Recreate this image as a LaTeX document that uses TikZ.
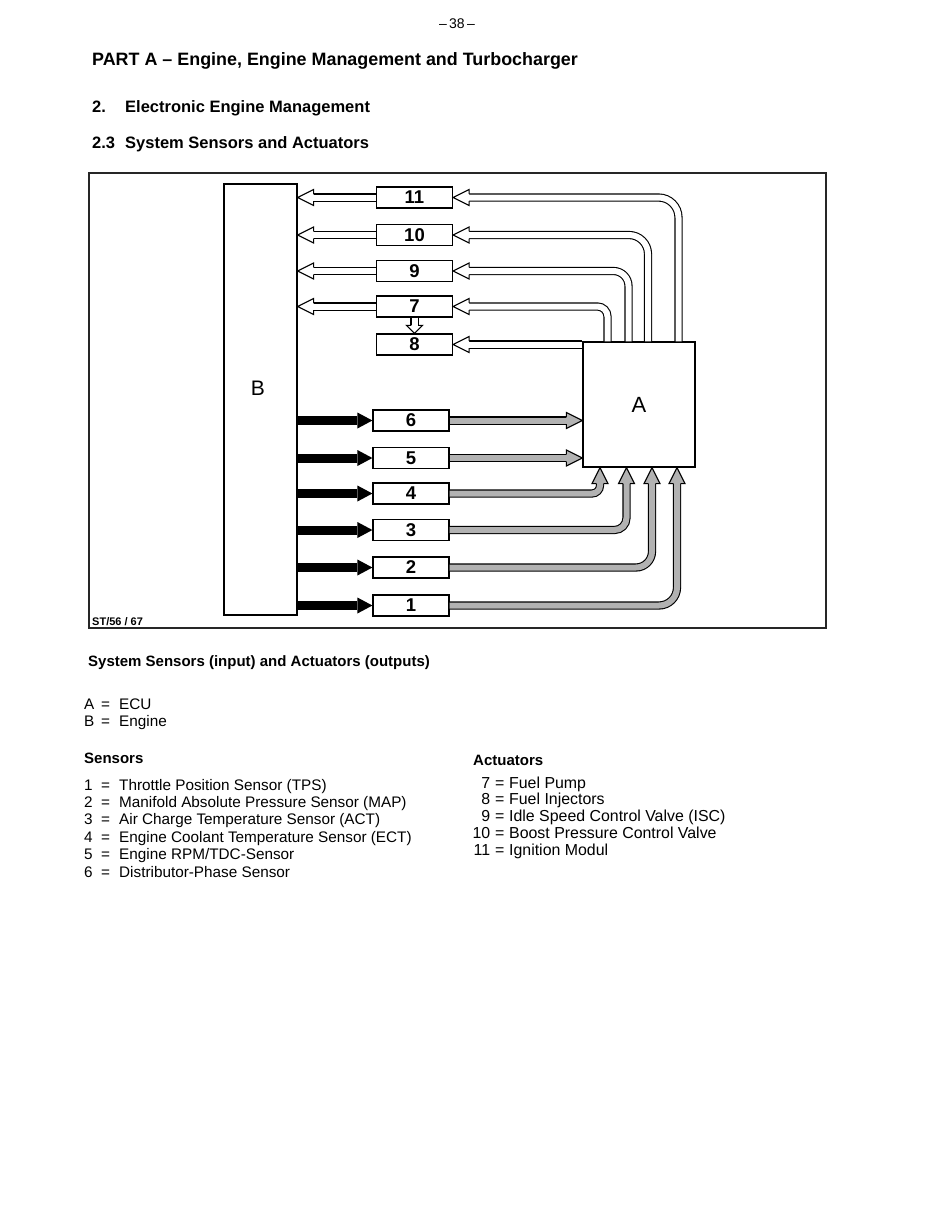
\documentclass[tikz,border=0pt]{standalone}
\usepackage{fontspec}
\setmainfont{Liberation Sans}
\usetikzlibrary{arrows.meta}

\tikzset{
  numbox/.style={draw, line width=1.2pt, fill=white, minimum width=76pt, minimum height=21pt,
    inner sep=0pt, font=\fontsize{18.5}{18.5}\selectfont\bfseries},
  ctrlbox/.style={draw, line width=1.2pt, inner sep=0pt, font=\fontsize{22}{22}\selectfont},
  pipe/.style={line width=1.1pt, double=#1, double distance=6pt},
  feed/.style={line width=9pt, -{Triangle[length=15pt, width=16pt, line width=0pt]}},
  txt/.style={anchor=base west, inner sep=0pt, font=\fontsize{15.3}{17.4}\selectfont},
  hollowtip/.pic={\filldraw[fill=#1, line width=1.1pt, line join=miter]
    (-16,-3.55) -- (-16,-8) -- (0,0) -- (-16,8) -- (-16,3.55);}
}

\begin{document}
\begin{tikzpicture}[x=1pt, y=-1pt]
    \colorlet{shade}{black!30}
    \useasboundingbox (0,0) rectangle (934,1208);

    % page head
    \node[txt, anchor=base, font=\fontsize{14}{14}\selectfont] (page) at (457,28) {–\,38\,–};
    \node[txt, font=\fontsize{17.9}{18}\selectfont\bfseries] (title) at (92,65)
        {PART A – Engine, Engine Management and Turbocharger};
    \node[txt, font=\fontsize{16.5}{17}\selectfont\bfseries] (sec) at (92,112)
        {\makebox[33pt][l]{2.}Electronic Engine Management};
    \node[txt, font=\fontsize{16.5}{17}\selectfont\bfseries] (subsec) at (92,148)
        {\makebox[33pt][l]{2.3}System Sensors and Actuators};

    % figure frame
    \draw[line width=1.3pt, black!85] (89,173) rectangle (826,628);
    \node[txt, font=\fontsize{11}{11}\selectfont\bfseries] (figno) at (92,625) {ST/56 / 67};

    % engine and ECU
    \node[ctrlbox, minimum width=73pt, minimum height=431pt] (B) at (260.5,399.5) {};
    \node[inner sep=0pt, font=\fontsize{21}{21}\selectfont] (Blabel) at (258,388) {B};
    \node[ctrlbox, minimum width=112pt, minimum height=125pt] (A) at (639,404.5) {A};

    % actuators and sensors
    \foreach \n/\y in {11/197.5, 10/235, 9/271, 7/306.5, 8/344.5}
        \node[numbox] (a\n) at (414.5,\y) {\n};
    \foreach \n/\y in {6/420.5, 5/458, 4/493.5, 3/530, 2/567.5, 1/605.5}
        \node[numbox] (s\n) at (411,\y) {\n};

    % engine -> sensors
    \foreach \n in {1,...,6}
        \draw[feed] (B.east |- s\n.west) -- (s\n.west);

    % actuators -> engine
    \foreach \n in {11,10,9,7} {
        \draw[pipe=white, shorten >=15pt] (a\n.west) -- (B.east |- a\n.west);
        \pic[rotate=180] at (B.east |- a\n.west) {hollowtip=white};
    }
    \draw[pipe=white, shorten >=7pt] (a7.south) -- (a8.north);
    \pic[rotate=-90, xscale=0.5] at (a8.north) {hollowtip=white};

    % ECU -> actuators
    \foreach \n/\x/\r in {11/678.5/20, 10/648/19, 9/628.5/15, 7/607.5/10} {
        \draw[pipe=white, rounded corners=\r, shorten >=15pt] (A.north -| \x,0) |- (a\n.east);
        \pic[rotate=180] at (a\n.east) {hollowtip=white};
    }
    \draw[pipe=white, shorten >=15pt] (A.west |- a8.east) -- (a8.east);
    \pic[rotate=180] at (a8.east) {hollowtip=white};

    % sensors -> ECU
    \foreach \n in {6,5} {
        \draw[pipe=shade, shorten >=15pt] (s\n.east) -- (A.west |- s\n.east);
        \pic at (A.west |- s\n.east) {hollowtip=shade};
    }
    \foreach \n/\x/\r in {4/600/8, 3/626.5/12, 2/652/16, 1/677/18} {
        \draw[pipe=shade, rounded corners=\r, shorten >=15pt] (s\n.east) -| (A.south -| \x,0);
        \pic[rotate=90] at (A.south -| \x,0) {hollowtip=shade};
    }

    % caption and legend
    \node[txt, font=\fontsize{15}{15}\selectfont\bfseries] (caption) at (88,666)
        {System Sensors (input) and Actuators (outputs)};
    \node[txt] (legA) at (84,709) {\makebox[17pt][l]{A}\makebox[18pt][l]{=}ECU};
    \node[txt] (legB) at (84,726) {\makebox[17pt][l]{B}\makebox[18pt][l]{=}Engine};

    \node[txt, font=\fontsize{15}{15}\selectfont\bfseries] (senhead) at (84,763) {Sensors};
    \foreach \n/\t [count=\i from 0] in {1/Throttle Position Sensor (TPS),
            2/Manifold Absolute Pressure Sensor (MAP), 3/Air Charge Temperature Sensor (ACT),
            4/Engine Coolant Temperature Sensor (ECT), 5/{Engine RPM/TDC-Sensor},
            6/Distributor-Phase Sensor}
        \node[txt] (sen\n) at (84,790+17.4*\i) {\makebox[17pt][l]{\n}\makebox[18pt][l]{=}\t};

    \node[txt, font=\fontsize{15}{15}\selectfont\bfseries] (acthead) at (473,765) {Actuators};
    \foreach \n/\t [count=\i from 0] in {7/Fuel Pump, 8/Fuel Injectors,
            9/Idle Speed Control Valve (ISC), 10/Boost Pressure Control Valve, 11/Ignition Modul}
        \node[txt, font=\fontsize{15.9}{16}\selectfont] (act\n) at (472,788+16.75*\i)
            {\makebox[18pt][r]{\n}\makebox[19pt]{=}\t};
\end{tikzpicture}
\end{document}
